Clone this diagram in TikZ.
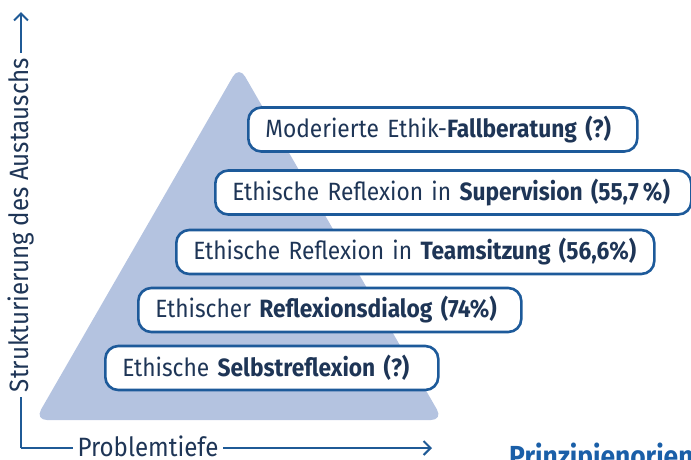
\documentclass[tikz,border=0pt]{standalone}
\usepackage{fontspec}
\setmainfont{Fira Sans}[FakeStretch=0.91]
\usetikzlibrary{arrows.meta}
\definecolor{tri}{HTML}{B4C3E0}
\definecolor{boxblue}{HTML}{1D5A9A}
\definecolor{navy}{HTML}{1E3556}
\definecolor{axisblue}{HTML}{1F5A96}
\definecolor{headblue}{HTML}{1A5FA8}
\tikzset{
  lvl/.style={draw=boxblue, line width=2.6pt, rounded corners=13pt, fill=white,
    anchor=west, minimum height=44pt, inner xsep=17pt, inner ysep=0pt, align=left,
    text=navy, font=\fontsize{25}{29}\selectfont},
  axisline/.style={draw=axisblue, line width=2pt, -{Straight Barb[length=7pt,width=14pt,line width=2pt]}},
  axislabel/.style={fill=white, text=navy, inner xsep=5pt, inner ysep=1pt, font=\fontsize{26.5}{30}\selectfont}
}
\begin{document}
\begin{tikzpicture}[x=1pt,y=-1pt]
\useasboundingbox (0,0) rectangle (691,459);
% pyramid
\fill[tri, rounded corners=12pt] (239,66) -- (443,420) -- (35,420) -- cycle;
% levels
\node[lvl, text width=355pt] (l1) at (247,129.5) {Moderierte Ethik-\textbf{Fallberatung (?)}};
\node[lvl, text width=442pt] (l2) at (214,192.5) {Ethische Reflexion in \textbf{Supervision (55,7\,\%)}};
\node[lvl, text width=444pt] (l3) at (175,252) {Ethische Reflexion in \textbf{Teamsitzung (56,6\%)}};
\node[lvl, text width=349pt] (l4) at (137,310) {Ethischer \textbf{Reflexionsdialog (74\%)}};
\node[lvl, text width=299pt] (l5) at (104,368) {Ethische \textbf{Selbstreflexion (?)}};
% axes
\coordinate (O) at (21,448);
\coordinate (ytop) at (21,12);
\coordinate (xend) at (432,448);
\draw[axisline] (O) -- (ytop);
\draw[axisline] (O) -- (xend);
\node[axislabel, rotate=90] (ylab) at (21,225) {Strukturierung des Austauschs};
\node[axislabel] (xlab) at (148,446) {Problemtiefe};
% cut-off heading
\node[anchor=base west, inner sep=0pt, text=headblue, font=\fontsize{29}{34}\selectfont\bfseries] (head) at (509,466) {Prinzipienorien};
\end{tikzpicture}
\end{document}
